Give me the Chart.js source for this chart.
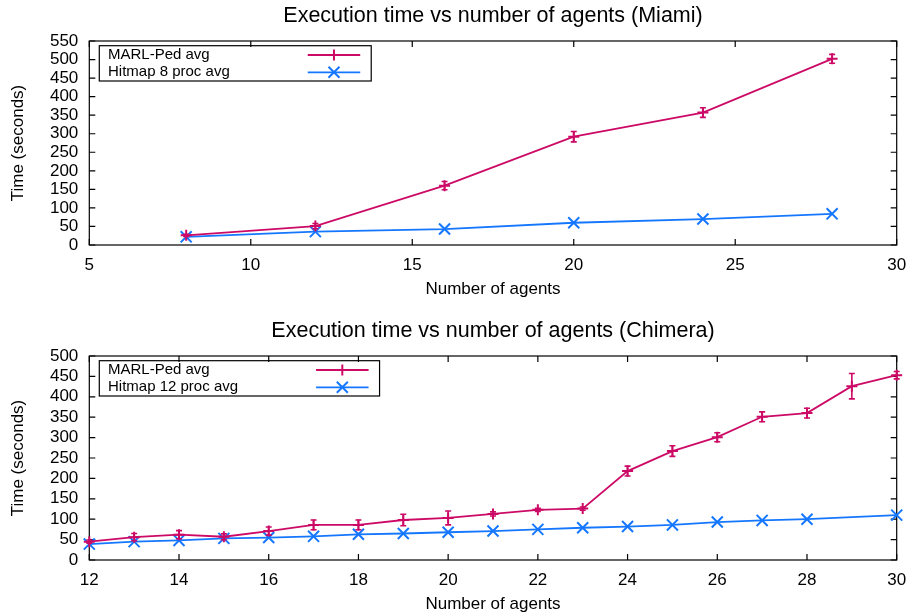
<!DOCTYPE html>
<html>
<head>
<meta charset="utf-8">
<script src="https://cdn.jsdelivr.net/npm/chart.js@4.4.0/dist/chart.umd.min.js"></script>
<style>
  html, body { margin: 0; padding: 0; background: #fff; }
  body { width: 912px; height: 616px; position: relative; overflow: hidden; }
  canvas { position: absolute; left: 0; }
  #c1 { top: 0; }
  #c2 { top: 315px; }
</style>
</head>
<body>
<canvas id="c1" width="912" height="300"></canvas>
<canvas id="c2" width="912" height="300"></canvas>
<script>
// ---- data: Miami ----
const miamiTitle = 'Execution time vs number of agents (Miami)';
const miamiAgents = [8, 12, 16, 20, 24, 28];
const miamiMarl = [26, 51, 160, 292, 357, 502];
const miamiMarlErr = [3, 7, 11, 14, 13, 12];
const miamiHitmap = [22, 36, 43, 60, 70, 84];
const miamiLabels = ['MARL-Ped avg', 'Hitmap 8 proc avg'];
const miamiXTicks = { min: 5, max: 30, step: 5 };
const miamiYTicks = { min: 0, max: 550, step: 50 };

// ---- data: Chimera ----
const chimeraTitle = 'Execution time vs number of agents (Chimera)';
const chimeraAgents = [12, 13, 14, 15, 16, 17, 18, 19, 20, 21, 22, 23, 24, 25, 26, 27, 28, 29, 30];
const chimeraMarl = [45, 56, 62, 57, 71, 86, 86, 98, 103, 113, 123, 126, 218, 267, 301, 351, 360, 426, 453];
const chimeraMarlErr = [4, 9, 10, 7, 10, 12, 12, 14, 17, 5, 4, 4, 12, 13, 11, 12, 12, 31, 9];
const chimeraHitmap = [39, 45, 48, 53, 55, 58, 63, 65, 68, 71, 75, 79, 82, 86, 93, 97, 100, null, 110];
const chimeraLabels = ['MARL-Ped avg', 'Hitmap 12 proc avg'];
const chimeraXTicks = { min: 12, max: 30, step: 2 };
const chimeraYTicks = { min: 0, max: 500, step: 50 };

const xAxisTitle = 'Number of agents';
const yAxisTitle = 'Time (seconds)';

const FONT = "'Liberation Sans', Arial, Helvetica, sans-serif";
const MAGENTA = '#cc0a66';
const BLUE = '#1577ff';

function drawMarker(ctx, style, x, y, color) {
  ctx.save();
  ctx.strokeStyle = color;
  ctx.lineWidth = 2;
  ctx.beginPath();
  const r = 5.5;
  if (style === 'cross') {
    ctx.moveTo(x - r, y); ctx.lineTo(x + r, y);
    ctx.moveTo(x, y - r); ctx.lineTo(x, y + r);
  } else {
    ctx.moveTo(x - r, y - r); ctx.lineTo(x + r, y + r);
    ctx.moveTo(x - r, y + r); ctx.lineTo(x + r, y - r);
  }
  ctx.stroke();
  ctx.restore();
}

const framePlugin = {
  id: 'frame',
  beforeDatasetsDraw(chart) {
    const { ctx, chartArea: a, scales } = chart;
    ctx.save();
    ctx.strokeStyle = '#000';
    ctx.lineWidth = 1.2;
    ctx.strokeRect(a.left, a.top, a.right - a.left, a.bottom - a.top);
    const T = 6;
    ctx.beginPath();
    scales.x.ticks.forEach(t => {
      const px = scales.x.getPixelForValue(t.value);
      ctx.moveTo(px, a.bottom); ctx.lineTo(px, a.bottom - T);
      ctx.moveTo(px, a.top); ctx.lineTo(px, a.top + T);
    });
    scales.y.ticks.forEach(t => {
      const py = scales.y.getPixelForValue(t.value);
      ctx.moveTo(a.left, py); ctx.lineTo(a.left + T, py);
      ctx.moveTo(a.right, py); ctx.lineTo(a.right - T, py);
    });
    ctx.stroke();
    ctx.restore();
  },
  afterDatasetsDraw(chart) {
    const { ctx, chartArea: a, scales } = chart;
    // error bars
    chart.data.datasets.forEach(ds => {
      if (!ds.errors) return;
      ctx.save();
      ctx.strokeStyle = ds.borderColor;
      ctx.lineWidth = 1.6;
      ctx.beginPath();
      ds.data.forEach((p, i) => {
        if (p.y == null) return;
        const e = ds.errors[i];
        const px = scales.x.getPixelForValue(p.x);
        const y1 = scales.y.getPixelForValue(p.y + e);
        const y2 = scales.y.getPixelForValue(p.y - e);
        const cw = 3;
        ctx.moveTo(px, y1); ctx.lineTo(px, y2);
        ctx.moveTo(px - cw, y1); ctx.lineTo(px + cw, y1);
        ctx.moveTo(px - cw, y2); ctx.lineTo(px + cw, y2);
      });
      ctx.stroke();
      ctx.restore();
    });
    // gnuplot style key
    ctx.save();
    ctx.font = '15px ' + FONT;
    const widths = chart.data.datasets.map(d => ctx.measureText(d.label).width);
    const maxW = Math.max(...widths);
    const left = a.left + 10;
    const top = a.top + 4.7;
    const w = 8.7 + maxW + 78 + 52.5 + 11;
    const h = 35.3;
    ctx.strokeStyle = '#000';
    ctx.lineWidth = 1.2;
    ctx.strokeRect(left, top, w, h);
    ctx.fillStyle = '#000';
    ctx.textBaseline = 'middle';
    ctx.textAlign = 'left';
    chart.data.datasets.forEach((d, i) => {
      const cy = top + 9.3 + i * 17.3;
      ctx.fillText(d.label, left + 8.7, cy);
      const sx2 = left + w - 11;
      const sx1 = sx2 - 52.5;
      ctx.save();
      ctx.strokeStyle = d.borderColor;
      ctx.lineWidth = d.borderWidth;
      ctx.beginPath();
      ctx.moveTo(sx1, cy); ctx.lineTo(sx2, cy);
      ctx.stroke();
      ctx.restore();
      drawMarker(ctx, d.pointStyle, (sx1 + sx2) / 2, cy, d.borderColor);
    });
    ctx.restore();
  }
};

function makeChart(id, title, xs, marl, marlErr, hitmap, labels, xT, yT) {
  const marlPts = xs.map((x, i) => ({ x, y: marl[i] }));
  const hitPts = xs.map((x, i) => ({ x, y: hitmap[i] }));
  return new Chart(document.getElementById(id), {
    type: 'line',
    data: {
      datasets: [
        {
          label: labels[0], data: marlPts, errors: marlErr,
          borderColor: MAGENTA, backgroundColor: MAGENTA, borderWidth: 1.8,
          pointStyle: 'cross', pointRadius: 5.5, pointBorderWidth: 2,
          pointBorderColor: MAGENTA, tension: 0, fill: false, clip: false
        },
        {
          label: labels[1], data: hitPts,
          borderColor: BLUE, backgroundColor: BLUE, borderWidth: 1.8,
          pointStyle: 'crossRot', pointRadius: 7.8, pointBorderWidth: 2,
          pointBorderColor: BLUE, tension: 0, fill: false, spanGaps: true, clip: false
        }
      ]
    },
    options: {
      responsive: false,
      animation: false,
      devicePixelRatio: 1,
      layout: { padding: { left: 0, right: 15.3, top: 0, bottom: 0 } },
      plugins: {
        legend: { display: false },
        tooltip: { enabled: false },
        title: {
          display: true, text: title, color: '#000', fullSize: false,
          font: { family: FONT, size: 21.5, weight: 'normal' },
          padding: { top: 3, bottom: 12.2 }
        }
      },
      scales: {
        x: {
          type: 'linear', position: 'bottom', min: xT.min, max: xT.max,
          grid: { display: false, drawTicks: false }, border: { display: false },
          ticks: { stepSize: xT.step, color: '#000', font: { family: FONT, size: 17 }, padding: 10, maxRotation: 0, autoSkip: false },
          title: { display: true, text: xAxisTitle, color: '#000', font: { family: FONT, size: 17 }, padding: { top: 0, bottom: 0.8 } },
          afterFit: s => { s.height = 55; s.paddingLeft = 0; s.paddingRight = 0; }
        },
        y: {
          type: 'linear', position: 'left', min: yT.min, max: yT.max,
          grid: { display: false, drawTicks: false }, border: { display: false },
          ticks: { stepSize: yT.step, color: '#000', font: { family: FONT, size: 17 }, padding: 11, autoSkip: false },
          title: { display: true, text: yAxisTitle, color: '#000', font: { family: FONT, size: 17 }, padding: { top: 7.8, bottom: 0 } },
          afterFit: s => { s.width = 89.3; s.paddingTop = 0; s.paddingBottom = 0; }
        }
      }
    },
    plugins: [framePlugin]
  });
}

makeChart('c1', miamiTitle, miamiAgents, miamiMarl, miamiMarlErr, miamiHitmap, miamiLabels, miamiXTicks, miamiYTicks);
makeChart('c2', chimeraTitle, chimeraAgents, chimeraMarl, chimeraMarlErr, chimeraHitmap, chimeraLabels, chimeraXTicks, chimeraYTicks);
</script>
</body>
</html>
